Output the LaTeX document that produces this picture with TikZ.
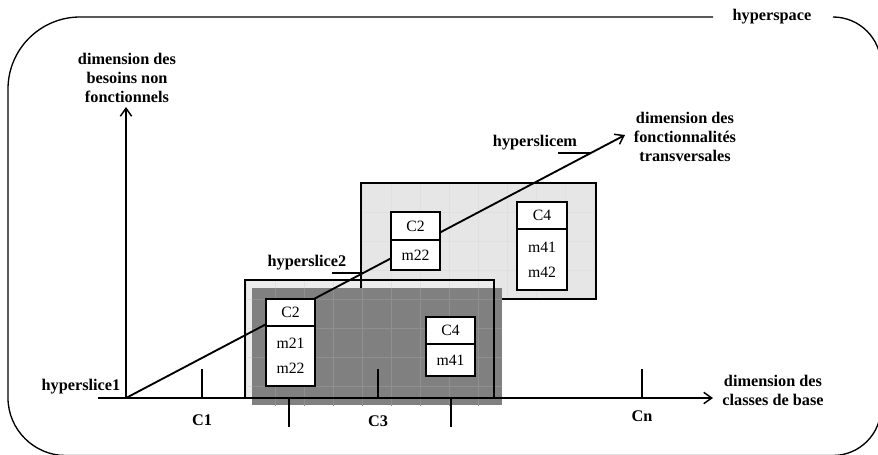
\documentclass[tikz,border=0pt]{standalone}
\usepackage{fontspec}
\setmainfont{Liberation Serif}
\usetikzlibrary{positioning,calc,arrows.meta}
\definecolor{slicelight}{RGB}{230,230,230}
\definecolor{slicepale}{RGB}{236,236,236}
\definecolor{slicedark}{RGB}{128,128,128}
\tikzset{
  axis/.style={line width=1.4pt},
  axisarrow/.style={axis,-{Straight Barb[length=6pt,width=8.5pt,line width=1.1pt]}},
  slicebox/.style={line width=1.5pt},
  gridlight/.style={line width=0.5pt,color=black!12},
  griddark/.style={line width=0.5pt,color=black!44},
  dimlabel/.style={font=\bfseries\fontsize{12.2}{14.3}\selectfont,align=center,inner sep=1pt},
  slicelabel/.style={font=\bfseries\fontsize{12.2}{14.3}\selectfont,inner sep=1pt},
  classhead/.style={draw,line width=1.6pt,fill=white,outer sep=0pt,inner sep=0pt,minimum width=36.75pt,minimum height=20.25pt,font=\fontsize{11.8}{18.6}\selectfont,align=center},
  classbody/.style={classhead,minimum height=23pt}
}
\begin{document}
\begin{tikzpicture}[x=0.75pt,y=0.75pt,yscale=-1]
\useasboundingbox (0,0) rectangle (878,454);
\clip (0,0) rectangle (878,454);

%Shape: hyperspace border
\draw [line width=1pt] (713,17) -- (80,17) .. controls (40.3,17) and (8,49.3) .. (8,89) -- (8,398) .. controls (8,429.7) and (34.3,455.5) .. (65.5,455.5) -- (833,455.5) .. controls (859.5,455.5) and (881,434) .. (881,407.5) -- (881,65) .. controls (881,38.5) and (859.5,17) .. (833,17) ;
% Text Node
\node [slicelabel] (hspace) at (772,17) {hyperspace};

%Shape: hyperslicem
\begin{scope}
\clip (361,183) rectangle (596,299);
\fill [slicelight] (361,183) rectangle (596,299);
\draw [gridlight,shift={(391,212)},step=29] (-58,-58) grid (232,116);
\end{scope}
\draw [slicebox] (361,183) rectangle (596,299);

%Shape: hyperslice2
\begin{scope}
\clip (245,280) rectangle (494,398);
\fill [slicepale] (245,280) rectangle (494,398);
\draw [gridlight,shift={(391,212)},step=29] (-174,58) grid (116,203);
\end{scope}
\draw [slicebox] (361,280) -- (361,288);
\begin{scope}
\clip (252,288) rectangle (502,405);
\fill [slicedark] (252,288) rectangle (502,405);
\draw [griddark,shift={(391,212)},step=29] (-174,58) grid (116,203);
\end{scope}
\draw [slicebox] (245,280) rectangle (494,398);

%Straight Lines: axes
\coordinate (O) at (126,398);
\coordinate (xstart) at (98,398);
\coordinate (xtip) at (713,398);
\coordinate (ytip) at (126,107);
\coordinate (dtip) at (625,135);
\draw [axisarrow] (xstart) -- (xtip);
\draw [axisarrow] (O) -- (ytip);
\foreach \x in {202,378,642}
  \draw [axis] (\x,369) -- (\x,398);
\foreach \x in {289,451}
  \draw [axis] (\x,398) -- (\x,427);
\draw [axisarrow] (O) -- (dtip);

%Shape: classes of hyperslice2
\node [classhead,anchor=north west] (c2one) at (266,299) {C2};
\node [classbody,minimum height=45pt,below=0pt of c2one] (c2onebody) {m21\\m22};
\node [classhead,anchor=north west] (c4one) at (426,317) {C4};
\node [classbody,minimum height=24pt,below=0pt of c4one] (c4onebody) {m41};

%Shape: classes of hyperslicem
\node [classhead,anchor=north west,minimum height=21pt] (c2m) at (391,212) {C2};
\node [classbody,minimum height=22.5pt,below=0pt of c2m] (c2mbody) {m22};
\node [classhead,anchor=north west,minimum width=37.5pt] (c4m) at (517,202) {C4};
\node [classbody,minimum width=37.5pt,minimum height=45.75pt,below=0pt of c4m] (c4mbody) {m41\\m42};

% Text Node
\node [dimlabel] (ydim) at (127,78) {dimension des\\besoins non\\fonctionnels};
\node [dimlabel] (ddim) at (685,137) {dimension des\\fonctionnalités\\transversales};
\node [dimlabel] (xdim) at (773,390) {dimension des\\classes de base};
\node [slicelabel] (cone) at (202,420) {C1};
\node [slicelabel] (cthree) at (378,421) {C3};
\node [slicelabel] (cn) at (642,416) {Cn};

% Text Node
\node [slicelabel] (hs1) at (81,387) {hyperslice1};
\node [slicelabel] (hs2) at (307,263) {hyperslice2};
\node [slicelabel] (hsm) at (535,143) {hyperslicem};
\coordinate (cut2) at ($(O)!0.475!(dtip)$);
\coordinate (cutm) at ($(O)!0.9316!(dtip)$);
\draw [axis] (cut2) -- ++(-31,0);
\draw [axis] (cutm) -- ++(-33,0);

\end{tikzpicture}
\end{document}
